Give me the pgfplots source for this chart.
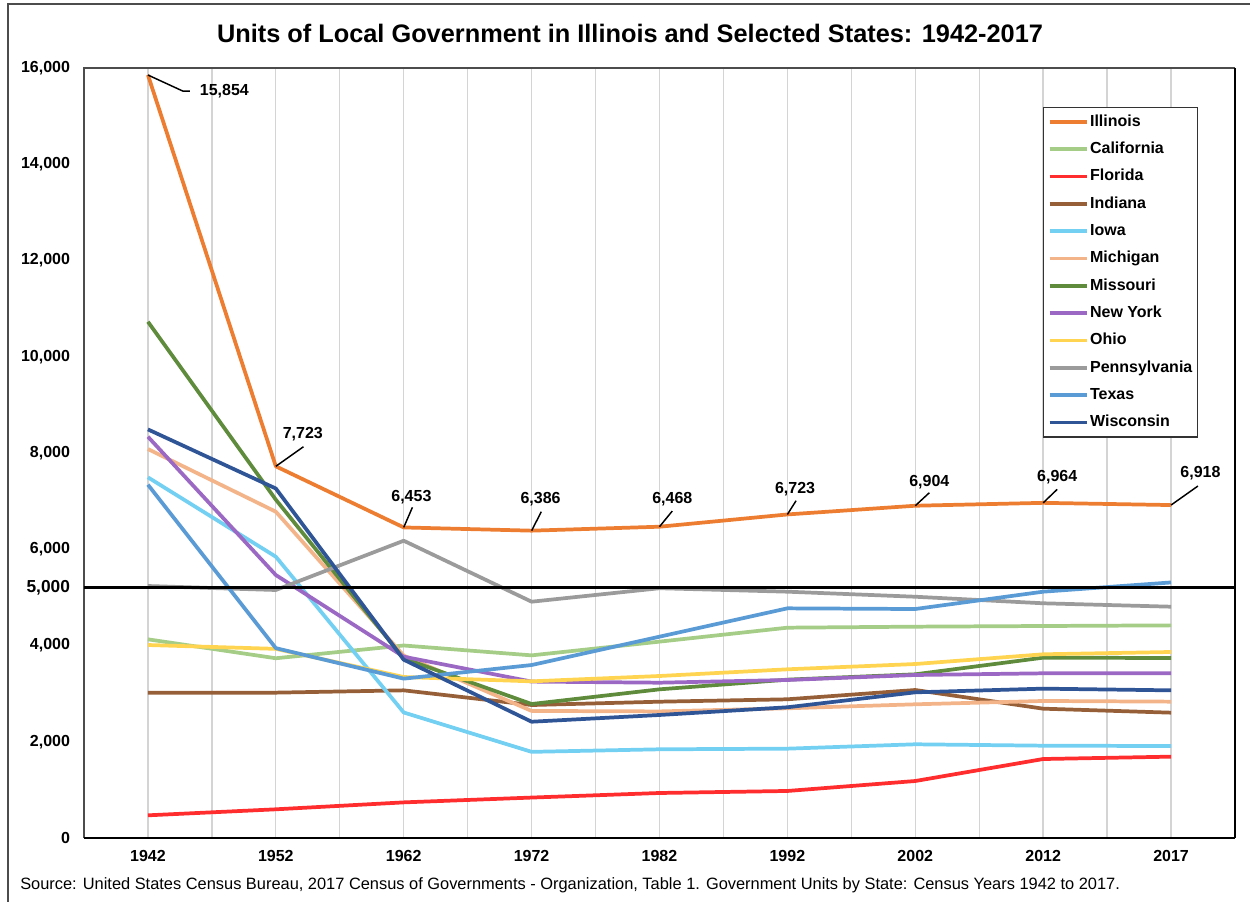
\documentclass[border=0pt]{standalone}
\usepackage{fontspec}
\setmainfont{Liberation Sans}
\usepackage{pgfplots}
\pgfplotsset{compat=1.18}

\definecolor{cIL}{RGB}{237,125,49}
\definecolor{cCA}{RGB}{165,205,135}
\definecolor{cFL}{RGB}{255,45,45}
\definecolor{cIN}{RGB}{150,95,55}
\definecolor{cIA}{RGB}{115,208,242}
\definecolor{cMI}{RGB}{244,180,138}
\definecolor{cMO}{RGB}{95,140,60}
\definecolor{cNY}{RGB}{155,105,195}
\definecolor{cOH}{RGB}{255,212,80}
\definecolor{cPA}{RGB}{155,155,155}
\definecolor{cTX}{RGB}{91,155,213}
\definecolor{cWI}{RGB}{47,85,151}

\begin{document}
\begin{tikzpicture}
\useasboundingbox (-63pt,-48pt) rectangle (874.5pt,628.5pt);
% outer chart frame (partly cut off at right and bottom)
\draw[line width=1.2pt, black!70] (-57pt,-48pt) -- (-57pt,625.5pt) -- (874.5pt,625.5pt);

\begin{axis}[
  at={(0pt,0pt)}, anchor=south west,
  width=863.25pt, height=577.5pt, scale only axis,
  clip=false,
  xmin=-0.5, xmax=8.5, ymin=0, ymax=16000,
  xtick={0,...,8},
  xticklabels={1942,1952,1962,1972,1982,1992,2002,2012,2017},
  minor xtick={0.5,1.5,...,7.5},
  xmajorgrids, xminorgrids,
  major grid style={draw=black!17, line width=1pt},
  minor grid style={draw=black!17, line width=1pt},
  ytick={0,2000,...,16000},
  extra y ticks={5200},
  extra y tick labels={5{,}000},
  extra y tick style={yticklabel style={font=\bfseries\fontsize{13}{15}\selectfont}},
  major tick length=0pt, minor tick length=0pt,
  tick label style={font=\bfseries\fontsize{12}{14}\selectfont},
  /pgf/number format/assume math mode=true,
  /pgf/number format/1000 sep={,},
  scaled y ticks=false,
  yticklabel style={xshift=-7pt},
  xticklabel style={yshift=-6pt},
  axis line style={draw=none},
  legend style={at={(0.8332,0.9494)}, anchor=north west,
    draw=black!80, line width=1pt,
    font=\bfseries\fontsize{12}{14}\selectfont,
    row sep=7pt, inner xsep=3pt, inner ysep=4pt,
    nodes={inner sep=1pt, text height=9pt, text depth=2.5pt},
    cells={anchor=west}},
  legend image code/.code={\draw[#1] (0pt,0pt) -- (28pt,0pt);},
  every axis plot/.append style={line width=2.8pt, line join=round},
]
\addplot[cIL] coordinates {(0,15854) (1,7723) (2,6453) (3,6386) (4,6468) (5,6723) (6,6904) (7,6964) (8,6918)};
\addlegendentry{Illinois}
\addplot[cCA] coordinates {(0,4128) (1,3735) (2,4000) (3,3795) (4,4080) (5,4370) (6,4391) (7,4405) (8,4418)};
\addlegendentry{California}
\addplot[cFL] coordinates {(0,471) (1,596) (2,740) (3,840) (4,935) (5,977) (6,1184) (7,1641) (8,1690)};
\addlegendentry{Florida}
\addplot[cIN] coordinates {(0,3019) (1,3020) (2,3068) (3,2763) (4,2832) (5,2882) (6,3075) (7,2687) (8,2604)};
\addlegendentry{Indiana}
\addplot[cIA] coordinates {(0,7494) (1,5845) (2,2608) (3,1790) (4,1843) (5,1856) (6,1947) (7,1918) (8,1911)};
\addlegendentry{Iowa}
\addplot[cMI] coordinates {(0,8082) (1,6780) (2,3790) (3,2640) (4,2630) (5,2695) (6,2778) (7,2847) (8,2833)};
\addlegendentry{Michigan}
\addplot[cMO] coordinates {(0,10727) (1,7030) (2,3730) (3,2784) (4,3089) (5,3290) (6,3401) (7,3747) (8,3740)};
\addlegendentry{Missouri}
\addplot[cNY] coordinates {(0,8338) (1,5464) (2,3767) (3,3250) (4,3227) (5,3283) (6,3387) (7,3422) (8,3422)};
\addlegendentry{New York}
\addplot[cOH] coordinates {(0,4010) (1,3930) (2,3345) (3,3255) (4,3366) (5,3505) (6,3615) (7,3817) (8,3865)};
\addlegendentry{Ohio}
\addplot[cPA] coordinates {(0,5236) (1,5153) (2,6177) (3,4910) (4,5190) (5,5118) (6,5013) (7,4877) (8,4806)};
\addlegendentry{Pennsylvania}
\addplot[cTX] coordinates {(0,7341) (1,3945) (2,3311) (3,3594) (4,4183) (5,4772) (6,4758) (7,5118) (8,5310)};
\addlegendentry{Texas}
\addplot[cWI] coordinates {(0,8490) (1,7262) (2,3705) (3,2416) (4,2556) (5,2716) (6,3027) (7,3103) (8,3068)};
\addlegendentry{Wisconsin}

% plot frame
\draw[line width=1.5pt, black!70] (rel axis cs:0,0) -- (rel axis cs:0,1) -- (rel axis cs:1,1);
\draw[line width=1.5pt, black] (rel axis cs:1,1) -- (rel axis cs:1,0);
\draw[line width=2.2pt, black] (rel axis cs:0,0) -- (rel axis cs:1,0);
% reference line at 5,000
\draw[line width=2.2pt, black] (axis cs:-0.5,5200) -- (axis cs:8.5,5200);

% Illinois callouts
\begin{scope}[line width=1.1pt, every node/.style={font=\bfseries\fontsize{12}{14}\selectfont, inner sep=1pt}]
\draw (axis cs:0,15854) -- (axis cs:0.273,15520) -- (axis cs:0.328,15520);
\node[anchor=west] at (axis cs:0.39,15520) {15,854};
\draw (axis cs:1,7723) -- (axis cs:1.216,8130);
\node at (axis cs:1.211,8394) {7,723};
\draw (axis cs:2,6453) -- (axis cs:2.068,6871);
\node at (axis cs:2.06,7091) {6,453};
\draw (axis cs:3,6386) -- (axis cs:3.076,6780);
\node at (axis cs:3.07,7037) {6,386};
\draw (axis cs:4,6468) -- (axis cs:4.10,6794);
\node at (axis cs:4.10,7037) {6,468};
\draw (axis cs:5,6723) -- (axis cs:5.068,7008);
\node at (axis cs:5.06,7250) {6,723};
\draw (axis cs:6,6904) -- (axis cs:6.11,7174);
\node at (axis cs:6.11,7403) {6,904};
\draw (axis cs:7,6964) -- (axis cs:7.11,7245);
\node at (axis cs:7.11,7507) {6,964};
\draw (axis cs:8,6918) -- (axis cs:8.21,7313);
\node at (axis cs:8.23,7577) {6,918};
\end{scope}
\end{axis}

\node[font=\bfseries\fontsize{19}{22}\selectfont] at (409.5pt,603.75pt)
  {Units of Local Government in Illinois and Selected States: 1942-2017};
\node[anchor=west, inner sep=0pt, font=\fontsize{12.3}{14}\selectfont] at (-48pt,-35.25pt)
  {Source: United States Census Bureau, 2017 Census of Governments - Organization, Table 1. Government Units by State: Census Years 1942 to 2017.};
\end{tikzpicture}
\end{document}
